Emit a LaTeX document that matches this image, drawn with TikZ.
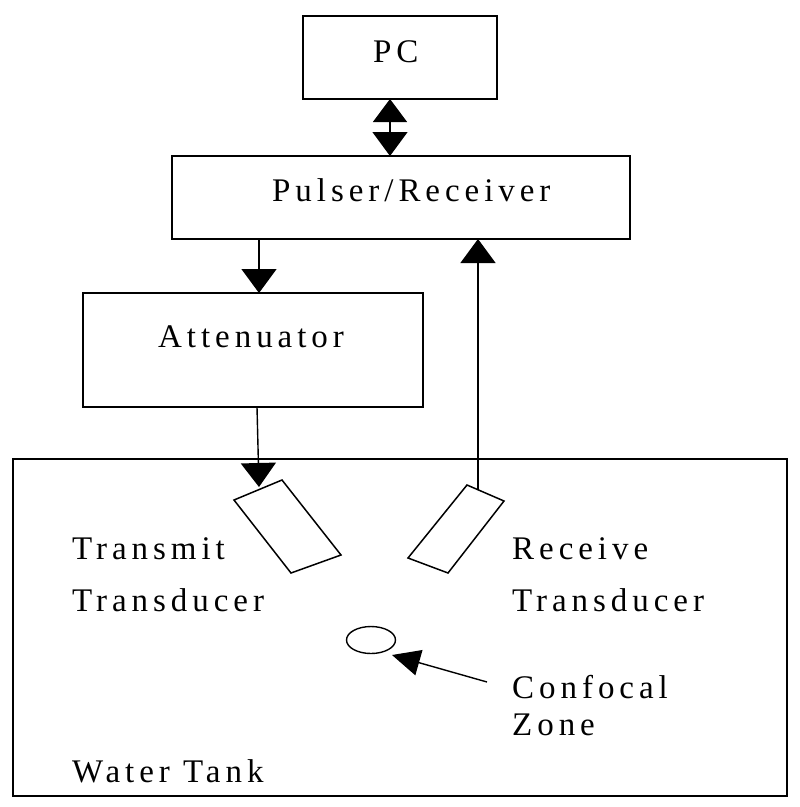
\documentclass[tikz,border=0pt]{standalone}
\usepackage{fontspec}
\setmainfont{Liberation Serif}[LetterSpace=15]
\usetikzlibrary{arrows.meta,shapes.geometric}
\begin{document}
\begin{tikzpicture}[x=1pt,y=-1pt,
  box/.style={draw, line width=1.8pt, inner sep=0pt, outer sep=0pt},
  lbl/.style={anchor=base west, inner sep=0pt, font=\fontsize{33}{40}\selectfont},
  bighead/.style={line width=1.4pt, -{Triangle[length=24pt,width=35pt]}},
  trans/.style={draw, line width=1.5pt, line join=miter}]
\useasboundingbox (0,0) rectangle (800,807);
% boxes
\node[box, minimum width=194pt, minimum height=83pt] (pc) at (400,57.5) {};
\node[box, minimum width=458pt, minimum height=83pt] (pr) at (401,197.5) {};
\node[box, minimum width=340pt, minimum height=114pt] (att) at (253,350) {};
\node[box, minimum width=774pt, minimum height=337pt] (tank) at (400,627.5) {};
% box texts
\node[lbl] (pct) at (373,62) {PC};
\node[lbl] (prt) at (272,201) {Pulser/Receiver};
\node[lbl] (attt) at (158,347) {Attenuator};
% transducers
\draw[trans] (234,500) -- (282,480) -- (341,555) -- (291,573) -- cycle;
\draw[trans] (467,485) -- (504,501) -- (448,573) -- (408,558) -- cycle;
\coordinate (tx) at (259,487);
\coordinate (rx) at (478,490);
% confocal zone
\node[draw, ellipse, line width=1.4pt, minimum width=49pt, minimum height=27pt, inner sep=0pt] (zone) at (371,640) {};
\coordinate (ztip) at (392,655);
\coordinate (zfrom) at (487,682);
% connectors
\draw[line width=1.4pt, {Triangle[length=23pt,width=34pt]}-{Triangle[length=24pt,width=35pt]}]
  (pc.south -| 390,0) -- (pr.north -| 390,0);
\draw[bighead] (pr.south -| 259,0) -- (att.north -| 259,0);
\draw[bighead] (att.south -| 257,0) -- (tx);
\draw[bighead] (rx) -- (pr.south -| 478,0);
\draw[line width=1.4pt, -{Triangle[length=28pt,width=26pt]}] (zfrom) -- (ztip);
% labels
\node[lbl] (t1) at (72,559) {Transmit};
\node[lbl] (t2) at (72,611) {Transducer};
\node[lbl] (r1) at (512,559) {Receive};
\node[lbl] (r2) at (512,611) {Transducer};
\node[lbl] (c1) at (512,698) {Confocal};
\node[lbl] (c2) at (512,735) {Zone};
\node[lbl] (w1) at (72,782) {Water Tank};
\end{tikzpicture}
\end{document}
